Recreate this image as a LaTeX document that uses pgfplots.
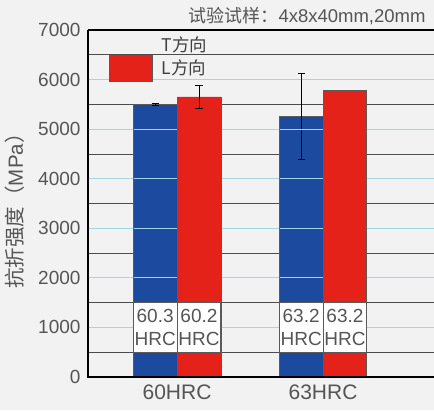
\documentclass[border=0pt]{standalone}
\usepackage{fontspec}
\setmainfont{Liberation Sans}
\newfontfamily\cjk{Noto Sans CJK SC}
\usepackage{pgfplots}
\pgfplotsset{compat=1.18}
\usetikzlibrary{backgrounds}
\definecolor{bgc}{HTML}{F2F2F2}
\definecolor{tblue}{HTML}{1B4A9E}
\definecolor{lred}{HTML}{E42219}
\definecolor{gridblue}{HTML}{A3D5E3}
\definecolor{txt}{HTML}{555555}
\definecolor{edge}{HTML}{5A5A5A}
\begin{document}
\begin{tikzpicture}
\begin{axis}[
  at={(88pt,33pt)}, anchor=south west,
  scale only axis, width=346pt, height=347pt,
  xmin=-0.61, xmax=1.76, ymin=0, ymax=7000,
  axis line style={draw=none},
  xtick={0,1}, xticklabels={60HRC,63HRC},
  xtick pos=bottom, ytick pos=left,
  ytick={0,1000,...,7000}, minor ytick={500,1500,...,6500},
  ymajorgrids, yminorgrids,
  major grid style={gridblue, line width=1pt},
  minor grid style={black!70, line width=0.8pt},
  major tick length=0pt, minor tick length=0pt,
  /pgf/number format/assume math mode=true,
  /pgf/number format/set thousands separator={},
  y tick label style={font=\fontsize{19}{19}\selectfont, text=txt, xshift=-4pt},
  x tick label style={font=\fontsize{21}{21}\selectfont, text=txt, yshift=-4pt},
  ylabel={{\cjk 抗折强度（}MPa{\cjk ）}},
  ylabel style={at={(axis description cs:-0.211,0.493)}, anchor=center, font=\fontsize{20.5}{20.5}\selectfont, text=txt},
  ybar, bar width=0.3,
  clip=false,
  legend style={at={(axis description cs:0.0607,0.9878)}, anchor=north west,
    draw=none, fill=none, inner sep=0pt, row sep=0pt,
    nodes={font=\cjk\fontsize{17.5}{17.5}\selectfont, text=black!75, inner xsep=2pt, inner ysep=2pt, anchor=west}},
  legend cell align=left,
]
\addplot[fill=tblue, draw=edge, line width=0.7pt, bar shift=-0.15,
  legend image code/.code={\path[draw=none, fill=none] (0pt,-6pt) rectangle (50pt,6pt);},
  error bars/.cd, y dir=both, y explicit,
  error bar style={draw=black, line width=0.8pt},
  error mark options={draw=black, rotate=90, mark size=3.6pt, line width=0.8pt}]
  coordinates {(0,5500) +- (0,12) (1,5250) +- (0,870)};
\addlegendentry{T方向}
\pgfplotsinvokeforeach{1000,2000,3000,4000,5000}{
  \addplot[sharp plot, gridblue, line width=1pt, mark=none, forget plot] coordinates {(-0.297,#1) (-0.003,#1)};
  \addplot[sharp plot, gridblue, line width=1pt, mark=none, forget plot] coordinates {(0.703,#1) (0.997,#1)};
}
\addplot[fill=lred, draw=edge, line width=0.7pt, bar shift=0.15,
  legend image code/.code={\path[draw=none, fill=none] (0pt,0pt) -- (50pt,0pt);
    \filldraw[fill=lred, draw=edge, line width=0.7pt] (0pt,-13pt) rectangle (43pt,13pt);}]
  coordinates {(0,5650) (1,5780)};
\addlegendentry{L方向}
\addplot[draw=none, fill=none, bar shift=0.15, forget plot,
  error bars/.cd, y dir=both, y explicit,
  error bar style={draw=black, line width=0.8pt},
  error mark options={draw=black, rotate=90, mark size=3.6pt, line width=0.8pt}]
  coordinates {(0,5650) +- (0,240)};
\draw[black, line width=1.5pt] (rel axis cs:0,1) -- (rel axis cs:1,1);
\draw[black, line width=1.6pt] (rel axis cs:0,1) -- (rel axis cs:0,0) -- (rel axis cs:1,0);
\node[draw=edge, fill=white, line width=0.8pt, minimum width=43.8pt, minimum height=49.6pt, inner sep=0pt,
  align=center, text=txt, font=\fontsize{19}{23}\selectfont] at (axis cs:-0.15,1000) {60.3\\HRC};
\node[draw=edge, fill=white, line width=0.8pt, minimum width=43.8pt, minimum height=49.6pt, inner sep=0pt,
  align=center, text=txt, font=\fontsize{19}{23}\selectfont] at (axis cs:0.15,1000) {60.2\\HRC};
\node[draw=edge, fill=white, line width=0.8pt, minimum width=43.8pt, minimum height=49.6pt, inner sep=0pt,
  align=center, text=txt, font=\fontsize{19}{23}\selectfont] at (axis cs:0.85,1000) {63.2\\HRC};
\node[draw=edge, fill=white, line width=0.8pt, minimum width=43.8pt, minimum height=49.6pt, inner sep=0pt,
  align=center, text=txt, font=\fontsize{19}{23}\selectfont] at (axis cs:1.15,1000) {63.2\\HRC};
\node[text=txt, anchor=center] at (axis description cs:0.633,1.040)
  {{\cjk\fontsize{18}{18}\selectfont 试验试样：}{\fontsize{18.5}{18.5}\selectfont 4x8x40mm,20mm}};
\end{axis}
\begin{scope}[on background layer]
\fill[bgc] (0,0) rectangle (434pt,410pt);
\end{scope}
\pgfresetboundingbox
\useasboundingbox (0,0) rectangle (434pt,410pt);
\end{tikzpicture}
\end{document}
